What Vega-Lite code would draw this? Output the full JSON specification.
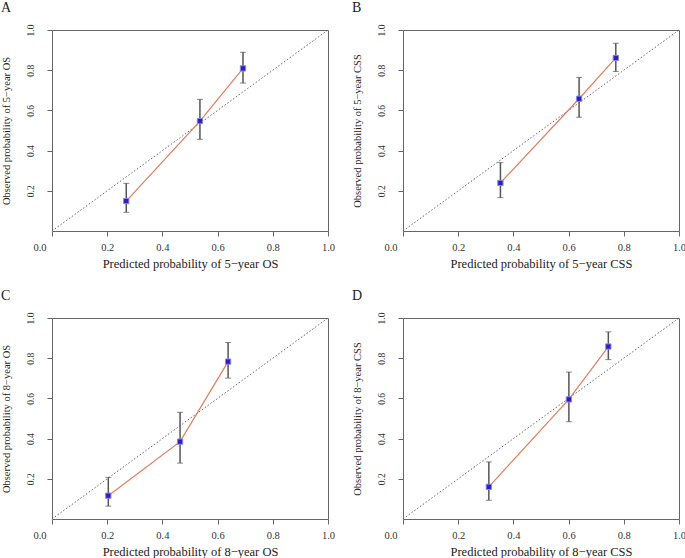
{
  "$schema": "https://vega.github.io/schema/vega-lite/v6.json",
  "background": "white",
  "padding": {"left": 0, "top": 0, "right": 0, "bottom": 0},
  "config": {
    "view": {"stroke": "#666666", "strokeWidth": 1},
    "axis": {"domain": false, "grid": false, "tickColor": "#666666", "tickSize": 5, "labelFont": "Liberation Serif", "titleFont": "Liberation Serif", "titleFontWeight": "normal", "labelColor": "#333333", "titleColor": "#222222"},
    "axisX": {"labelFontSize": 10.5, "titleFontSize": 12.5, "labelPadding": 6, "titlePadding": 5},
    "axisY": {"labelFontSize": 9.5, "titleFontSize": 10.5, "labelAngle": -90, "labelPadding": 12, "titlePadding": 14},
    "title": {"font": "Liberation Serif", "fontSize": 14, "fontWeight": "normal", "anchor": "start", "frame": "bounds", "color": "#222222", "offset": 9}
  },
  "datasets": {
    "cal": [
      {"panel": "A", "pred": 0.269, "obs": 0.149, "lo": 0.093, "hi": 0.237},
      {"panel": "A", "pred": 0.536, "obs": 0.547, "lo": 0.456, "hi": 0.655},
      {"panel": "A", "pred": 0.692, "obs": 0.809, "lo": 0.736, "hi": 0.889},
      {"panel": "B", "pred": 0.353, "obs": 0.239, "lo": 0.166, "hi": 0.340},
      {"panel": "B", "pred": 0.638, "obs": 0.658, "lo": 0.566, "hi": 0.764},
      {"panel": "B", "pred": 0.771, "obs": 0.861, "lo": 0.794, "hi": 0.934},
      {"panel": "C", "pred": 0.204, "obs": 0.116, "lo": 0.064, "hi": 0.207},
      {"panel": "C", "pred": 0.464, "obs": 0.385, "lo": 0.278, "hi": 0.531},
      {"panel": "C", "pred": 0.638, "obs": 0.783, "lo": 0.701, "hi": 0.878},
      {"panel": "D", "pred": 0.311, "obs": 0.160, "lo": 0.093, "hi": 0.284},
      {"panel": "D", "pred": 0.601, "obs": 0.595, "lo": 0.484, "hi": 0.731},
      {"panel": "D", "pred": 0.744, "obs": 0.858, "lo": 0.793, "hi": 0.931}
    ],
    "diag": [{"x": 0, "y": 0}, {"x": 1, "y": 1}]
  },
  "columns": 2,
  "bounds": "flush",
  "spacing": {"row": 87, "column": 75},
  "concat": [
    {
      "width": 276, "height": 201,
      "title": {"text": "A"},
      "layer": [
        {"data": {"name": "diag"}, "mark": {"type": "line", "color": "#666666", "strokeDash": [1.5, 2], "strokeWidth": 1},
         "encoding": {
           "x": {"field": "x", "type": "quantitative", "scale": {"domain": [0, 1], "nice": false}, "title": "Predicted probability of 5−year OS", "axis": {"values": [0, 0.2, 0.4, 0.6, 0.8, 1], "format": ".1f", "labelAlign": {"condition": {"test": "datum.value == 0", "value": "right"}, "value": "center"}, "labelOffset": {"condition": {"test": "datum.value == 0", "value": -6}, "value": 0}}},
           "y": {"field": "y", "type": "quantitative", "scale": {"domain": [0, 1], "nice": false}, "title": "Observed probability of 5−year OS", "axis": {"values": [0.2, 0.4, 0.6, 0.8, 1], "format": ".1f"}}}},
        {"data": {"name": "cal"}, "transform": [{"filter": "datum.panel == 'A'"}], "mark": {"type": "line", "color": "#e07d5f", "strokeWidth": 1.2},
         "encoding": {"x": {"field": "pred", "type": "quantitative", "title": "Predicted probability of 5−year OS"}, "y": {"field": "obs", "type": "quantitative", "title": "Observed probability of 5−year OS"}}},
        {"data": {"name": "cal"}, "transform": [{"filter": "datum.panel == 'A'"}], "mark": {"type": "errorbar", "ticks": {"size": 6, "color": "#555555"}, "rule": {"color": "#555555", "strokeWidth": 1.5}},
         "encoding": {"x": {"field": "pred", "type": "quantitative", "title": "Predicted probability of 5−year OS"}, "y": {"field": "lo", "type": "quantitative", "title": "Observed probability of 5−year OS"}, "y2": {"field": "hi"}}},
        {"data": {"name": "cal"}, "transform": [{"filter": "datum.panel == 'A'"}], "mark": {"type": "point", "shape": "square", "filled": true, "size": 28, "color": "#2b20b8", "stroke": "#8c85e6", "strokeWidth": 1, "opacity": 1},
         "encoding": {"x": {"field": "pred", "type": "quantitative", "title": "Predicted probability of 5−year OS"}, "y": {"field": "obs", "type": "quantitative", "title": "Observed probability of 5−year OS"}}}
      ]
    },
    {
      "width": 276, "height": 201,
      "title": {"text": "B"},
      "layer": [
        {"data": {"name": "diag"}, "mark": {"type": "line", "color": "#666666", "strokeDash": [1.5, 2], "strokeWidth": 1},
         "encoding": {
           "x": {"field": "x", "type": "quantitative", "scale": {"domain": [0, 1], "nice": false}, "title": "Predicted probability of 5−year CSS", "axis": {"values": [0, 0.2, 0.4, 0.6, 0.8, 1], "format": ".1f", "labelAlign": {"condition": {"test": "datum.value == 0", "value": "right"}, "value": "center"}, "labelOffset": {"condition": {"test": "datum.value == 0", "value": -6}, "value": 0}}},
           "y": {"field": "y", "type": "quantitative", "scale": {"domain": [0, 1], "nice": false}, "title": "Observed probability of 5−year CSS", "axis": {"values": [0.2, 0.4, 0.6, 0.8, 1], "format": ".1f"}}}},
        {"data": {"name": "cal"}, "transform": [{"filter": "datum.panel == 'B'"}], "mark": {"type": "line", "color": "#e07d5f", "strokeWidth": 1.2},
         "encoding": {"x": {"field": "pred", "type": "quantitative", "title": "Predicted probability of 5−year CSS"}, "y": {"field": "obs", "type": "quantitative", "title": "Observed probability of 5−year CSS"}}},
        {"data": {"name": "cal"}, "transform": [{"filter": "datum.panel == 'B'"}], "mark": {"type": "errorbar", "ticks": {"size": 6, "color": "#555555"}, "rule": {"color": "#555555", "strokeWidth": 1.5}},
         "encoding": {"x": {"field": "pred", "type": "quantitative", "title": "Predicted probability of 5−year CSS"}, "y": {"field": "lo", "type": "quantitative", "title": "Observed probability of 5−year CSS"}, "y2": {"field": "hi"}}},
        {"data": {"name": "cal"}, "transform": [{"filter": "datum.panel == 'B'"}], "mark": {"type": "point", "shape": "square", "filled": true, "size": 28, "color": "#2b20b8", "stroke": "#8c85e6", "strokeWidth": 1, "opacity": 1},
         "encoding": {"x": {"field": "pred", "type": "quantitative", "title": "Predicted probability of 5−year CSS"}, "y": {"field": "obs", "type": "quantitative", "title": "Observed probability of 5−year CSS"}}}
      ]
    },
    {
      "width": 276, "height": 201,
      "title": {"text": "C"},
      "layer": [
        {"data": {"name": "diag"}, "mark": {"type": "line", "color": "#666666", "strokeDash": [1.5, 2], "strokeWidth": 1},
         "encoding": {
           "x": {"field": "x", "type": "quantitative", "scale": {"domain": [0, 1], "nice": false}, "title": "Predicted probability of 8−year OS", "axis": {"values": [0, 0.2, 0.4, 0.6, 0.8, 1], "format": ".1f", "labelAlign": {"condition": {"test": "datum.value == 0", "value": "right"}, "value": "center"}, "labelOffset": {"condition": {"test": "datum.value == 0", "value": -6}, "value": 0}}},
           "y": {"field": "y", "type": "quantitative", "scale": {"domain": [0, 1], "nice": false}, "title": "Observed probability of 8−year OS", "axis": {"values": [0.2, 0.4, 0.6, 0.8, 1], "format": ".1f"}}}},
        {"data": {"name": "cal"}, "transform": [{"filter": "datum.panel == 'C'"}], "mark": {"type": "line", "color": "#e07d5f", "strokeWidth": 1.2},
         "encoding": {"x": {"field": "pred", "type": "quantitative", "title": "Predicted probability of 8−year OS"}, "y": {"field": "obs", "type": "quantitative", "title": "Observed probability of 8−year OS"}}},
        {"data": {"name": "cal"}, "transform": [{"filter": "datum.panel == 'C'"}], "mark": {"type": "errorbar", "ticks": {"size": 6, "color": "#555555"}, "rule": {"color": "#555555", "strokeWidth": 1.5}},
         "encoding": {"x": {"field": "pred", "type": "quantitative", "title": "Predicted probability of 8−year OS"}, "y": {"field": "lo", "type": "quantitative", "title": "Observed probability of 8−year OS"}, "y2": {"field": "hi"}}},
        {"data": {"name": "cal"}, "transform": [{"filter": "datum.panel == 'C'"}], "mark": {"type": "point", "shape": "square", "filled": true, "size": 28, "color": "#2b20b8", "stroke": "#8c85e6", "strokeWidth": 1, "opacity": 1},
         "encoding": {"x": {"field": "pred", "type": "quantitative", "title": "Predicted probability of 8−year OS"}, "y": {"field": "obs", "type": "quantitative", "title": "Observed probability of 8−year OS"}}}
      ]
    },
    {
      "width": 276, "height": 201,
      "title": {"text": "D"},
      "layer": [
        {"data": {"name": "diag"}, "mark": {"type": "line", "color": "#666666", "strokeDash": [1.5, 2], "strokeWidth": 1},
         "encoding": {
           "x": {"field": "x", "type": "quantitative", "scale": {"domain": [0, 1], "nice": false}, "title": "Predicted probability of 8−year CSS", "axis": {"values": [0, 0.2, 0.4, 0.6, 0.8, 1], "format": ".1f", "labelAlign": {"condition": {"test": "datum.value == 0", "value": "right"}, "value": "center"}, "labelOffset": {"condition": {"test": "datum.value == 0", "value": -6}, "value": 0}}},
           "y": {"field": "y", "type": "quantitative", "scale": {"domain": [0, 1], "nice": false}, "title": "Observed probability of 8−year CSS", "axis": {"values": [0.2, 0.4, 0.6, 0.8, 1], "format": ".1f"}}}},
        {"data": {"name": "cal"}, "transform": [{"filter": "datum.panel == 'D'"}], "mark": {"type": "line", "color": "#e07d5f", "strokeWidth": 1.2},
         "encoding": {"x": {"field": "pred", "type": "quantitative", "title": "Predicted probability of 8−year CSS"}, "y": {"field": "obs", "type": "quantitative", "title": "Observed probability of 8−year CSS"}}},
        {"data": {"name": "cal"}, "transform": [{"filter": "datum.panel == 'D'"}], "mark": {"type": "errorbar", "ticks": {"size": 6, "color": "#555555"}, "rule": {"color": "#555555", "strokeWidth": 1.5}},
         "encoding": {"x": {"field": "pred", "type": "quantitative", "title": "Predicted probability of 8−year CSS"}, "y": {"field": "lo", "type": "quantitative", "title": "Observed probability of 8−year CSS"}, "y2": {"field": "hi"}}},
        {"data": {"name": "cal"}, "transform": [{"filter": "datum.panel == 'D'"}], "mark": {"type": "point", "shape": "square", "filled": true, "size": 28, "color": "#2b20b8", "stroke": "#8c85e6", "strokeWidth": 1, "opacity": 1},
         "encoding": {"x": {"field": "pred", "type": "quantitative", "title": "Predicted probability of 8−year CSS"}, "y": {"field": "obs", "type": "quantitative", "title": "Observed probability of 8−year CSS"}}}
      ]
    }
  ]
}
